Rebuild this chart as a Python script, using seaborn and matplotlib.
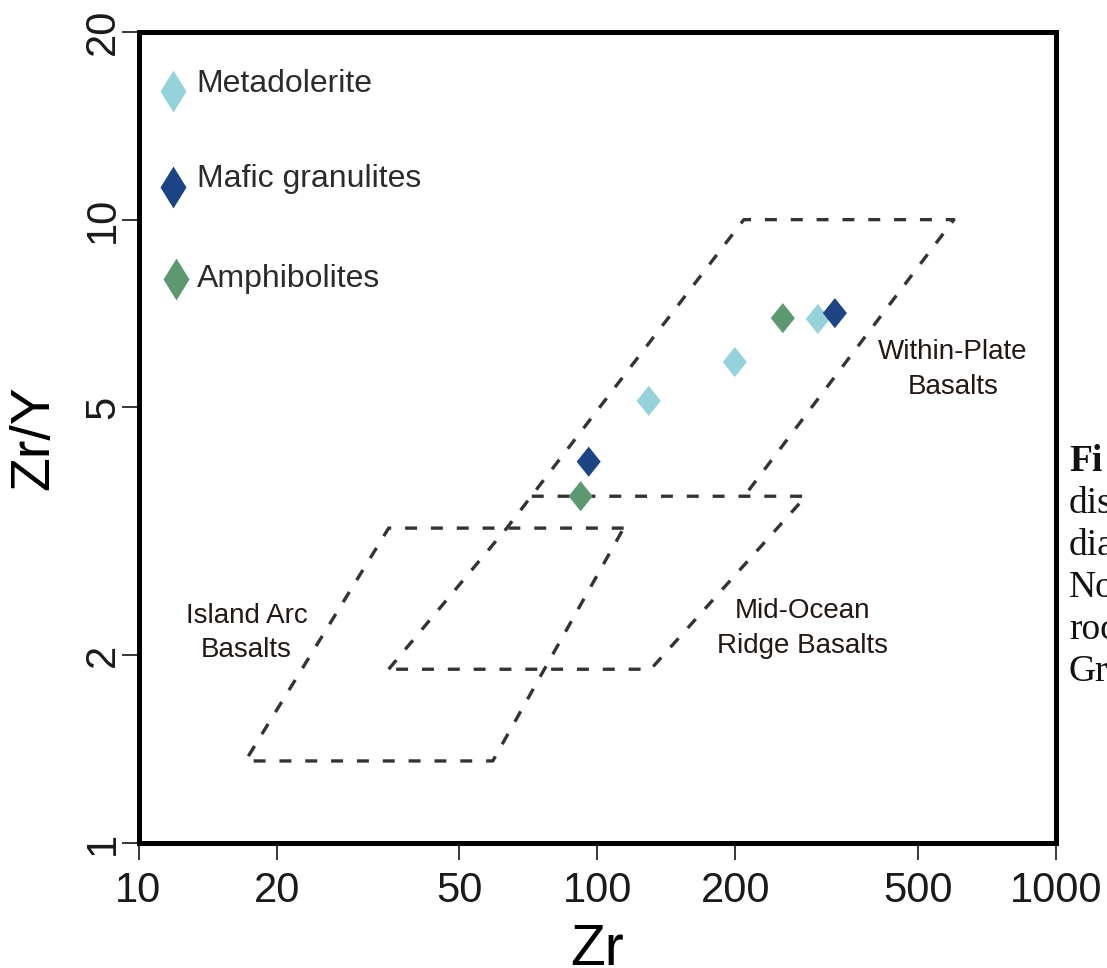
import numpy as np
import pandas as pd
import matplotlib
matplotlib.use("Agg")
import matplotlib.pyplot as plt
import seaborn as sns
from matplotlib.path import Path
from matplotlib.ticker import NullLocator

# ---------------- data ----------------
groups = ["Metadolerite", "Mafic granulites", "Amphibolites"]
group_colors = ["#95d2dc", "#1d4585", "#5d9870"]

meta_zr = [129.5, 199.5, 302.6]
meta_ratio = [5.12, 5.91, 6.93]
mafic_zr = [95.8, 329.6]
mafic_ratio = [4.09, 7.08]
amph_zr = [92.0, 253.8]
amph_ratio = [3.60, 6.95]

# discrimination field boundaries (Zr, Zr/Y)
wpb_zr = [35.1, 63.5, 208.7, 599.0, 210.9]
wpb_ratio = [1.90, 3.20, 10.0, 10.0, 3.63]
morb_zr = [72.0, 285.0, 130.8, 35.1]
morb_ratio = [3.60, 3.60, 1.90, 1.90]
iab_zr = [114.2, 35.1, 17.1, 59.2, 114.2]
iab_ratio = [3.20, 3.20, 1.354, 1.354, 3.20]

field_labels = ["Within-Plate", "Basalts", "Island Arc", "Basalts", "Mid-Ocean", "Ridge Basalts"]
field_label_zr = [596, 596, 17.2, 17.2, 280.7, 280.7]
field_label_ratio = [5.97, 5.25, 2.256, 1.990, 2.299, 2.020]

legend_marker_zr = [11.9, 11.9, 12.1]
legend_marker_ratio = [16.09, 11.30, 8.03]
legend_text_zr = 13.38
legend_text_ratio = [16.03, 11.28, 7.80]

x_ticks = [10, 20, 50, 100, 200, 500, 1000]
x_ticklabels = ["10", "20", "50", "100", "200", "500", "1000"]
y_ticks = [1, 2, 5, 10, 20]
y_ticklabels = ["1", "2", "5", "10", "20"]

caption_lines = ["Fi", "dis", "dia", "No", "roc", "Gr"]

# ---------------- style ----------------
sns.set_theme(style="white")
plt.rcParams["font.family"] = ["Liberation Sans", "DejaVu Sans"]
plt.rcParams["lines.scale_dashes"] = False

W, H = 1107, 968
fig = plt.figure(figsize=(W / 100, H / 100), dpi=100)
L, R, T, B = 138.5, 1056.0, 32.0, 843.0
ax = fig.add_axes([L / W, 1 - B / H, (R - L) / W, (B - T) / H])

df = pd.DataFrame({
    "Zr": meta_zr + mafic_zr + amph_zr,
    "ZrY": meta_ratio + mafic_ratio + amph_ratio,
    "group": [groups[0]] * len(meta_zr) + [groups[1]] * len(mafic_zr) + [groups[2]] * len(amph_zr),
})

diamond = Path([(0, 1), (0.8, 0), (0, -1), (-0.8, 0), (0, 1)],
               [Path.MOVETO, Path.LINETO, Path.LINETO, Path.LINETO, Path.CLOSEPOLY])
thin_diamond = Path([(0, 1), (0.62, 0), (0, -1), (-0.62, 0), (0, 1)],
                    [Path.MOVETO, Path.LINETO, Path.LINETO, Path.LINETO, Path.CLOSEPOLY])

ax.set_xscale("log")
ax.set_yscale("log")

# field boundaries
dash_kw = dict(color="#333333", lw=2.4, linestyle=(0, (8.6, 10.0)), dash_capstyle="butt", zorder=2)
ax.plot(wpb_zr, wpb_ratio, **dash_kw)
ax.plot(morb_zr, morb_ratio, **dash_kw)
ax.plot(iab_zr, iab_ratio, **dash_kw)

sns.scatterplot(data=df, x="Zr", y="ZrY", hue="group", hue_order=groups,
                palette=dict(zip(groups, group_colors)), marker=diamond, s=470,
                linewidth=0, legend=False, ax=ax, zorder=3)

# manual legend
for i, g in enumerate(groups):
    ax.scatter([legend_marker_zr[i]], [legend_marker_ratio[i]], marker=thin_diamond,
               s=910, color=group_colors[i], linewidths=0, zorder=3)
    ax.text(legend_text_zr, legend_text_ratio[i], g, fontsize=23, color="#2b2b2b",
            ha="left", va="baseline")

# field labels
for lab, zx, zy in zip(field_labels, field_label_zr, field_label_ratio):
    ax.text(zx, zy, lab, fontsize=20, color="#231815", ha="center", va="baseline")

ax.set_xlim(10, 1000)
ax.set_ylim(1, 20)
ax.set_xticks(x_ticks)
ax.set_xticklabels(x_ticklabels)
ax.set_yticks(y_ticks)
ax.set_yticklabels(y_ticklabels)
ax.xaxis.set_minor_locator(NullLocator())
ax.yaxis.set_minor_locator(NullLocator())

ax.tick_params(axis="both", which="major", direction="out", length=12, width=1.1,
               color="black", labelsize=30, labelcolor="#1a1a1a", bottom=True, left=True)
ax.tick_params(axis="x", pad=8)
ax.tick_params(axis="y", pad=-1)
plt.setp(ax.get_yticklabels(), rotation=90, va="center")

for s in ax.spines.values():
    s.set_visible(True)
    s.set_linewidth(3.6)
    s.set_color("black")
    s.set_zorder(5)

ax.set_xlabel("Zr", fontsize=41, color="black")
ax.set_ylabel("Zr/Y", fontsize=40, color="black")
ax.xaxis.set_label_coords(0.5, (B - 923) / (B - T))
ax.yaxis.set_label_coords((60 - L) / (R - L), 0.5)
ax.set_facecolor("white")
fig.patch.set_facecolor("white")

# caption that is clipped at the right edge, as in the source image
for i, line in enumerate(caption_lines):
    fig.text(1069 / W, 1 - (471 + 42 * i) / H, line, fontsize=27,
             family=["Liberation Serif", "DejaVu Serif"],
             fontweight="bold" if i == 0 else "normal",
             color="#111111", ha="left", va="baseline")

fig.savefig("out.png", dpi=100, facecolor="white")
